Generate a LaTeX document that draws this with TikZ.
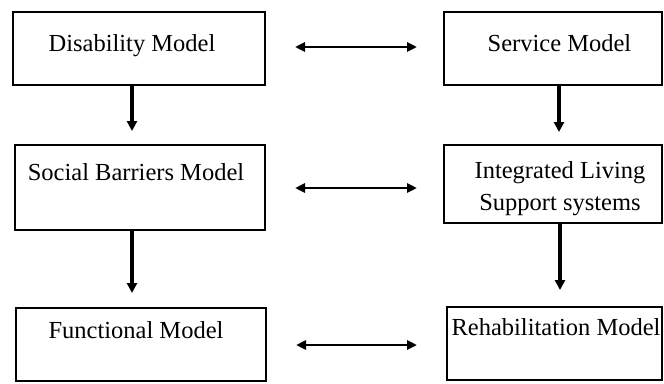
\documentclass[tikz,border=0pt]{standalone}
\usepackage{fontspec}
\setmainfont{Liberation Serif}
\usetikzlibrary{arrows.meta,calc}
\begin{document}
\begin{tikzpicture}[x=1pt,y=-1pt,
  box/.style={draw=black,line width=2.8pt},
  txt/.style={anchor=base,inner sep=0pt,font=\fontsize{24.5}{32}\selectfont},
  varrow/.style={line width=3.3pt,-{Triangle[length=10pt,width=10pt]}},
  harrow/.style={line width=2.6pt,{Triangle[length=10pt,width=9pt]}-{Triangle[length=10pt,width=9pt]}}]
\useasboundingbox (0,0) rectangle (664,383);
% boxes
\draw[box] (13,12) rectangle (265,85);
\draw[box] (15,145) rectangle (265,230);
\draw[box] (16,308) rectangle (266,381);
\draw[box] (444,12) rectangle (662,85);
\draw[box] (444,145) rectangle (662,223);
\draw[box] (447,307) rectangle (662,380);
% named anchor coordinates on the boxes
\coordinate (L1s) at (132,85);  \coordinate (L2n) at (132,145);
\coordinate (L2s) at (132,230); \coordinate (L3n) at (132,308);
\coordinate (R1s) at (559,85);  \coordinate (R2n) at (559,145);
\coordinate (R2s) at (560,223); \coordinate (R3n) at (560,307);
\coordinate (L1e) at (265,47);  \coordinate (R1w) at (444,47);
\coordinate (L2e) at (265,188); \coordinate (R2w) at (444,188);
\coordinate (L3e) at (266,345); \coordinate (R3w) at (447,345);
% texts
\node[txt] (t1) at (132,51) {Disability Model};
\node[txt] (t2) at (136,180) {Social Barriers Model};
\node[txt] (t3) at (136,338) {Functional Model};
\node[txt] (t4) at (559.5,51.5) {Service Model};
\node[txt] (t5) at (560,178) {Integrated Living};
\node[txt] (t6) at (560,210) {Support systems};
\node[txt] (t7) at (556,335) {Rehabilitation Model};
% vertical arrows
\draw[varrow,shorten >=14pt] (L1s) -- (L2n);
\draw[varrow,shorten >=15pt] (L2s) -- (L3n);
\draw[varrow,shorten >=13pt] (R1s) -- (R2n);
\draw[varrow,shorten >=17pt] (R2s) -- (R3n);
% horizontal arrows
\draw[harrow,shorten <=30pt,shorten >=27pt] (L1e) -- (R1w);
\draw[harrow,shorten <=30pt,shorten >=27pt] (L2e) -- (R2w);
\draw[harrow,shorten <=30pt,shorten >=30pt] (L3e) -- (R3w);
\end{tikzpicture}
\end{document}
